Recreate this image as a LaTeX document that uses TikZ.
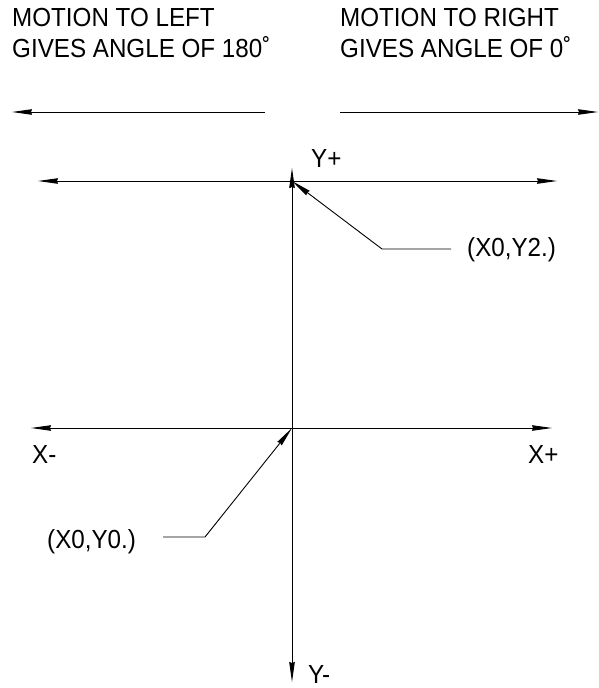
\documentclass[tikz,border=0pt]{standalone}
\usepackage{fontspec}
\setmainfont{Liberation Sans}
\usetikzlibrary{arrows.meta}
\newcommand{\tallt}[1]{\scalebox{1}[1.08]{#1}}
\tikzset{
  ln/.style={line width=0.9pt, draw=black},
  arr/.style={ln, -{Stealth[length=20pt,width=5.5pt,inset=1pt]}},
  darr/.style={ln, {Stealth[length=20pt,width=5.5pt,inset=1pt]}-{Stealth[length=20pt,width=5.5pt,inset=1pt]}},
  txt/.style={inner sep=0pt, anchor=base west, font=\fontsize{24.2}{28}\selectfont},
}
\begin{document}
\begin{tikzpicture}[x=1pt,y=-1pt]
\useasboundingbox (0,0) rectangle (599,688);
% header texts
\node[txt] (tl1) at (12,27) {\tallt{MOTION TO LEFT}};
\node[txt] (tl2) at (12,57) {\tallt{GIVES ANGLE OF 180˚}};
\node[txt] (tr1) at (340,27) {\tallt{MOTION TO RIGHT}};
\node[txt] (tr2) at (340,57) {\tallt{GIVES ANGLE OF 0˚}};
% motion arrows
\coordinate (la) at (265,112);
\coordinate (lb) at (12,112);
\coordinate (ra) at (340,112);
\coordinate (rb) at (598,112);
\draw[arr] (la) -- (lb);
\draw[arr] (ra) -- (rb);
% top horizontal line
\coordinate (h1) at (38,181);
\coordinate (h2) at (557,181);
\draw[darr] (h1) -- (h2);
% vertical axis
\coordinate (vt) at (292,168);
\coordinate (vb) at (292,682);
\draw[darr] (vb) -- (vt);
% x axis
\coordinate (x1) at (31,428);
\coordinate (x2) at (552,428);
\draw[darr] (x1) -- (x2);
% axis labels
\node[txt] (yp) at (311,167) {\tallt{Y+}};
\node[txt] (xm) at (32,463) {\tallt{X-}};
\node[txt] (xp) at (528,463) {\tallt{X+}};
\node[txt] (ym) at (308,683) {\tallt{Y-}};
% leaders
\coordinate (p2) at (292,181);
\coordinate (c2) at (382,249);
\coordinate (e2) at (451,249);
\draw[arr] (e2) -- (c2) -- (p2);
\node[txt] (l2) at (467,256) {\tallt{(X0,Y2.)}};
\coordinate (p0) at (292,428);
\coordinate (c0) at (205,537);
\coordinate (e0) at (163,537);
\draw[arr] (e0) -- (c0) -- (p0);
\node[txt] (l0) at (47,548) {\tallt{(X0,Y0.)}};
\end{tikzpicture}
\end{document}
